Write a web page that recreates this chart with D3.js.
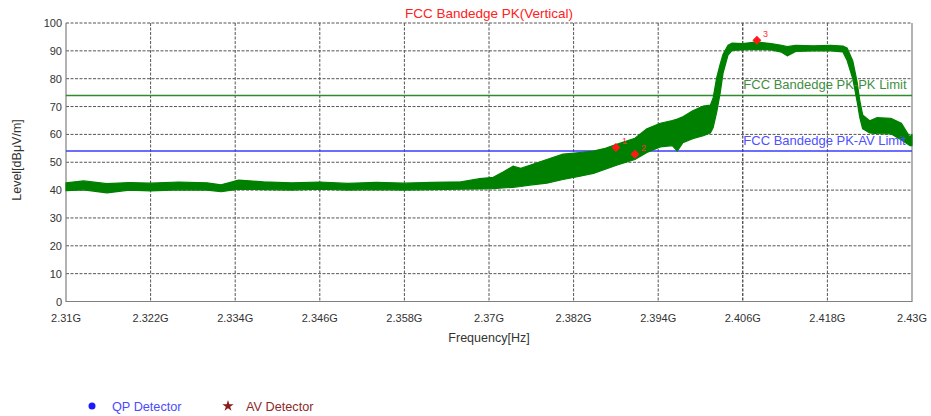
<!DOCTYPE html>
<html>
<head>
<meta charset="utf-8">
<script src="https://cdn.jsdelivr.net/npm/d3@7"></script>
<style>
  html, body { margin: 0; padding: 0; background: #fff; }
  svg { display: block; font-family: "Liberation Sans", Arial, sans-serif; }
</style>
</head>
<body>
<svg id="chart" width="931" height="416"></svg>
<script>
// Spectrum envelope of the peak trace: frequency (GHz), lower and upper level (dBμV/m)
const traceFreq = [2.3100, 2.3125, 2.3158, 2.3190, 2.3220, 2.3260, 2.3300, 2.3320, 2.3345, 2.3380,
  2.3420, 2.3460, 2.3500, 2.3540, 2.3580, 2.3620, 2.3660, 2.3687, 2.3706, 2.3720,
  2.3734, 2.3745, 2.3758, 2.3782, 2.3805, 2.3829, 2.3848, 2.3865, 2.3882, 2.3907,
  2.3924, 2.3943, 2.3960, 2.3967, 2.3975, 2.3989, 2.4004, 2.4014, 2.4018, 2.4023,
  2.4028, 2.4032, 2.4039, 2.4045, 2.4060, 2.4080, 2.4100, 2.4115, 2.4123, 2.4135,
  2.4160, 2.4185, 2.4202, 2.4208, 2.4216, 2.4222, 2.4226, 2.4230, 2.4240, 2.4250,
  2.4270, 2.4285, 2.4297, 2.4300];
const traceLow = [39.8, 40.1, 39.0, 40.0, 39.7, 40.1, 40.0, 39.4, 40.3, 40.2,
  40.0, 40.3, 40.0, 40.2, 40.0, 40.2, 40.3, 40.4, 40.5, 40.8,
  41.0, 41.3, 41.8, 42.5, 43.8, 45.0, 46.0, 47.5, 49.0, 51.0,
  53.5, 55.5, 56.0, 54.0, 57.0, 58.5, 59.5, 60.5, 62.5, 68.0,
  75.0, 82.0, 88.5, 90.2, 90.3, 90.5, 90.3, 89.5, 88.2, 89.8,
  90.0, 90.0, 89.6, 86.5, 80.0, 72.0, 66.0, 62.0, 60.5, 60.3,
  60.2, 58.0, 56.0, 56.0];
const traceHigh = [42.6, 43.3, 42.3, 42.7, 42.5, 42.9, 42.6, 41.9, 43.6, 43.0,
  42.6, 42.9, 42.4, 42.8, 42.5, 42.8, 43.0, 44.1, 44.6, 46.5,
  48.6, 47.8, 48.9, 51.0, 52.9, 53.5, 54.0, 55.0, 56.5, 58.6,
  62.0, 64.0, 65.0, 65.5, 66.3, 68.5, 70.2, 70.5, 73.2, 80.4,
  85.3, 88.8, 92.0, 92.8, 92.6, 93.2, 92.6, 92.0, 91.5, 92.0,
  91.8, 92.0, 91.7, 91.0, 86.4, 79.0, 72.0, 67.0, 64.9, 66.0,
  65.8, 64.0, 59.0, 60.0];

// Marker points
const markerLabels = ["1", "2", "3"];
const markerFreq = [2.3880, 2.3907, 2.4080];
const markerLevel = [55.3, 52.9, 93.8];

// Limit lines
const limitNames = ["FCC Bandedge PK-PK Limit", "FCC Bandedge PK-AV Limit"];
const limitLevels = [74, 54];
const limitColors = ["#2e8b2e", "#3b3bff"];
const limitTextColors = ["#3f8f3f", "#5050ff"];

// Axis ticks
const xTicks = [2.31, 2.322, 2.334, 2.346, 2.358, 2.37, 2.382, 2.394, 2.406, 2.418, 2.43];
const xTickLabels = ["2.31G", "2.322G", "2.334G", "2.346G", "2.358G", "2.37G", "2.382G", "2.394G", "2.406G", "2.418G", "2.43G"];
const yTicks = [0, 10, 20, 30, 40, 50, 60, 70, 80, 90, 100];

// Legend
const legendNames = ["QP Detector", "AV Detector"];
const legendColors = ["#1a1aff", "#8b1a1a"];

const svg = d3.select("#chart");
const plotLeft = 66, plotRight = 912, plotTop = 23, plotBottom = 301.5;

const x = d3.scaleLinear().domain([2.31, 2.43]).range([plotLeft, plotRight]);
const y = d3.scaleLinear().domain([0, 100]).range([plotBottom, plotTop]);

// Grid
const grid = svg.append("g");
grid.selectAll("line.v").data(xTicks.slice(1, -1)).join("line")
  .attr("x1", d => x(d)).attr("x2", d => x(d))
  .attr("y1", plotTop).attr("y2", plotBottom)
  .attr("stroke", d => Math.abs(d - 2.406) < 1e-9 ? "#111" : "#555")
  .attr("stroke-width", 1)
  .attr("stroke-dasharray", "3,1.5");
grid.selectAll("line.h").data(yTicks.slice(1)).join("line")
  .attr("x1", plotLeft).attr("x2", plotRight)
  .attr("y1", d => y(d)).attr("y2", d => y(d))
  .attr("stroke", "#555")
  .attr("stroke-width", 1)
  .attr("stroke-dasharray", "3,1.5");

// Frame: left, bottom, right solid
svg.append("path")
  .attr("d", `M${plotLeft},${plotTop}V${plotBottom}H${plotRight}V${plotTop}`)
  .attr("fill", "none").attr("stroke", "#808080").attr("stroke-width", 1.2);

// Limit lines
limitLevels.forEach((lv, i) => {
  svg.append("line")
    .attr("x1", plotLeft).attr("x2", plotRight)
    .attr("y1", y(lv)).attr("y2", y(lv))
    .attr("stroke", limitColors[i]).attr("stroke-width", 1.5);
});

// Trace band
const band = traceFreq.map((f, i) => ({ f, lo: traceLow[i], hi: traceHigh[i] }));
svg.append("path")
  .datum(band)
  .attr("fill", "#008000")
  .attr("stroke", "#008000")
  .attr("stroke-width", 1.2)
  .attr("stroke-linejoin", "round")
  .attr("d", d3.area().x(d => x(d.f)).y0(d => y(d.lo)).y1(d => y(d.hi)));

// Limit labels
limitNames.forEach((name, i) => {
  svg.append("text")
    .attr("x", x(2.406) + 0.5)
    .attr("y", y(limitLevels[i]) - 6)
    .attr("font-size", 13)
    .attr("fill", limitTextColors[i])
    .text(name);
});

// Markers
const diamond = d3.symbol().type(d3.symbolSquare).size(40);
markerFreq.forEach((f, i) => {
  svg.append("path")
    .attr("d", diamond())
    .attr("transform", `translate(${x(f)},${y(markerLevel[i])}) rotate(45)`)
    .attr("fill", "#ff1a1a");
  svg.append("text")
    .attr("x", x(f) + 6)
    .attr("y", y(markerLevel[i]) - 3)
    .attr("font-size", 9)
    .attr("fill", "#ff3030")
    .text(markerLabels[i]);
});

// Axes labels
svg.append("g").selectAll("text").data(xTicks).join("text")
  .attr("x", d => x(d)).attr("y", plotBottom + 20)
  .attr("text-anchor", "middle")
  .attr("font-size", 11).attr("fill", "#333")
  .text((d, i) => xTickLabels[i]);
svg.append("g").selectAll("text").data(yTicks).join("text")
  .attr("x", plotLeft - 4).attr("y", d => y(d) + 4)
  .attr("text-anchor", "end")
  .attr("font-size", 11).attr("fill", "#333")
  .text(d => d);

svg.append("text")
  .attr("x", 489).attr("y", 342)
  .attr("text-anchor", "middle")
  .attr("font-size", 12.5).attr("fill", "#333")
  .text("Frequency[Hz]");
svg.append("text")
  .attr("transform", "translate(21,160) rotate(-90)")
  .attr("text-anchor", "middle")
  .attr("font-size", 12.5).attr("fill", "#333")
  .text("Level[dBμV/m]");

// Title
svg.append("text")
  .attr("x", 489).attr("y", 18)
  .attr("text-anchor", "middle")
  .attr("font-size", 13.5).attr("fill", "#ff2020")
  .text("FCC Bandedge PK(Vertical)");

// Legend
svg.append("circle").attr("cx", 92).attr("cy", 406).attr("r", 3.5).attr("fill", legendColors[0]);
svg.append("text").attr("x", 112).attr("y", 410.5)
  .attr("font-size", 12.7).attr("fill", "#4a4aff").text(legendNames[0]);
svg.append("path")
  .attr("d", d3.symbol().type(d3.symbolStar).size(40)())
  .attr("transform", "translate(228,406)")
  .attr("fill", legendColors[1]);
svg.append("text").attr("x", 246).attr("y", 410.5)
  .attr("font-size", 12.7).attr("fill", "#8b2a2a").text(legendNames[1]);
</script>
</body>
</html>
